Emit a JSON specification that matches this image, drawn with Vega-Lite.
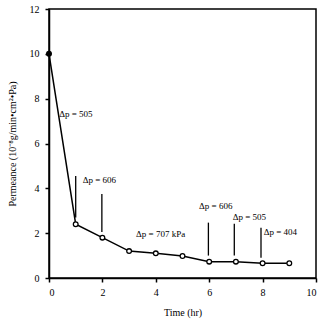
{
  "$schema": "https://vega.github.io/schema/vega-lite/v6.json",
  "width": 267,
  "height": 269,
  "autosize": "none",
  "padding": {"left": 49, "top": 9, "right": 9, "bottom": 41},
  "background": "white",
  "config": {
    "font": "Liberation Serif",
    "view": {"stroke": "black", "strokeWidth": 1.5},
    "axis": {
      "domain": true, "domainColor": "black", "domainWidth": 1.5,
      "tickColor": "black", "tickWidth": 1.5, "tickSize": 4,
      "grid": false,
      "labelFont": "Liberation Serif", "labelFontSize": 10, "labelColor": "black",
      "titleFont": "Liberation Serif", "titleFontSize": 10, "titleFontWeight": "normal", "titleColor": "black"
    }
  },
  "datasets": {
    "series": [
      {"time": 0, "permeance": 10.0, "first": "yes"},
      {"time": 1, "permeance": 2.4, "first": "no"},
      {"time": 2, "permeance": 1.8, "first": "no"},
      {"time": 3, "permeance": 1.2, "first": "no"},
      {"time": 4, "permeance": 1.1, "first": "no"},
      {"time": 5, "permeance": 0.98, "first": "no"},
      {"time": 6, "permeance": 0.73, "first": "no"},
      {"time": 7, "permeance": 0.73, "first": "no"},
      {"time": 8, "permeance": 0.66, "first": "no"},
      {"time": 9, "permeance": 0.66, "first": "no"}
    ],
    "marks": [
      {"x": 1.0, "y1": 2.7, "y2": 4.55},
      {"x": 1.98, "y1": 2.05, "y2": 3.75},
      {"x": 5.97, "y1": 1.0, "y2": 2.47},
      {"x": 6.94, "y1": 1.0, "y2": 2.42},
      {"x": 7.94, "y1": 0.9, "y2": 2.24}
    ],
    "labels": [
      {"x": 0.38, "y": 7.33, "label": "Δp = 505"},
      {"x": 1.26, "y": 4.37, "label": "Δp = 606"},
      {"x": 3.26, "y": 1.96, "label": "Δp = 707 kPa"},
      {"x": 5.62, "y": 3.2, "label": "Δp = 606"},
      {"x": 6.88, "y": 2.72, "label": "Δp = 505"},
      {"x": 8.04, "y": 2.07, "label": "Δp = 404"}
    ]
  },
  "layer": [
    {
      "data": {"name": "series"},
      "mark": {"type": "line", "color": "black", "strokeWidth": 1.5},
      "encoding": {
        "x": {"field": "time", "type": "quantitative",
              "scale": {"domain": [0, 10], "nice": false},
              "axis": {"title": "Time (hr)", "values": [0,1,2,3,4,5,6,7,8,9,10],
                       "labelExpr": "datum.value % 2 == 0 ? datum.label : ''",
                       "labelPadding": 5, "titlePadding": 10}},
        "y": {"field": "permeance", "type": "quantitative",
              "scale": {"domain": [0, 12], "nice": false},
              "axis": {"title": "Permeance (10⁻⁸g/min•cm²•Pa)", "values": [0,1,2,3,4,5,6,7,8,9,10,11,12],
                       "labelExpr": "datum.value % 2 == 0 ? datum.label : ''",
                       "labelPadding": 6, "titlePadding": 12}}
      }
    },
    {
      "data": {"name": "series"},
      "mark": {"type": "point", "shape": "circle", "size": 22, "strokeWidth": 1.3, "stroke": "black", "opacity": 1},
      "encoding": {
        "x": {"field": "time", "type": "quantitative"},
        "y": {"field": "permeance", "type": "quantitative"},
        "fill": {"field": "first", "type": "nominal", "scale": {"domain": ["yes", "no"], "range": ["black", "white"]}, "legend": null}
      }
    },
    {
      "data": {"name": "marks"},
      "mark": {"type": "rule", "color": "black", "strokeWidth": 1.3},
      "encoding": {
        "x": {"field": "x", "type": "quantitative"},
        "y": {"field": "y1", "type": "quantitative"},
        "y2": {"field": "y2"}
      }
    },
    {
      "data": {"name": "labels"},
      "mark": {"type": "text", "align": "left", "baseline": "middle", "fontSize": 9, "font": "Liberation Serif", "color": "black"},
      "encoding": {
        "x": {"field": "x", "type": "quantitative"},
        "y": {"field": "y", "type": "quantitative"},
        "text": {"field": "label"}
      }
    }
  ]
}
